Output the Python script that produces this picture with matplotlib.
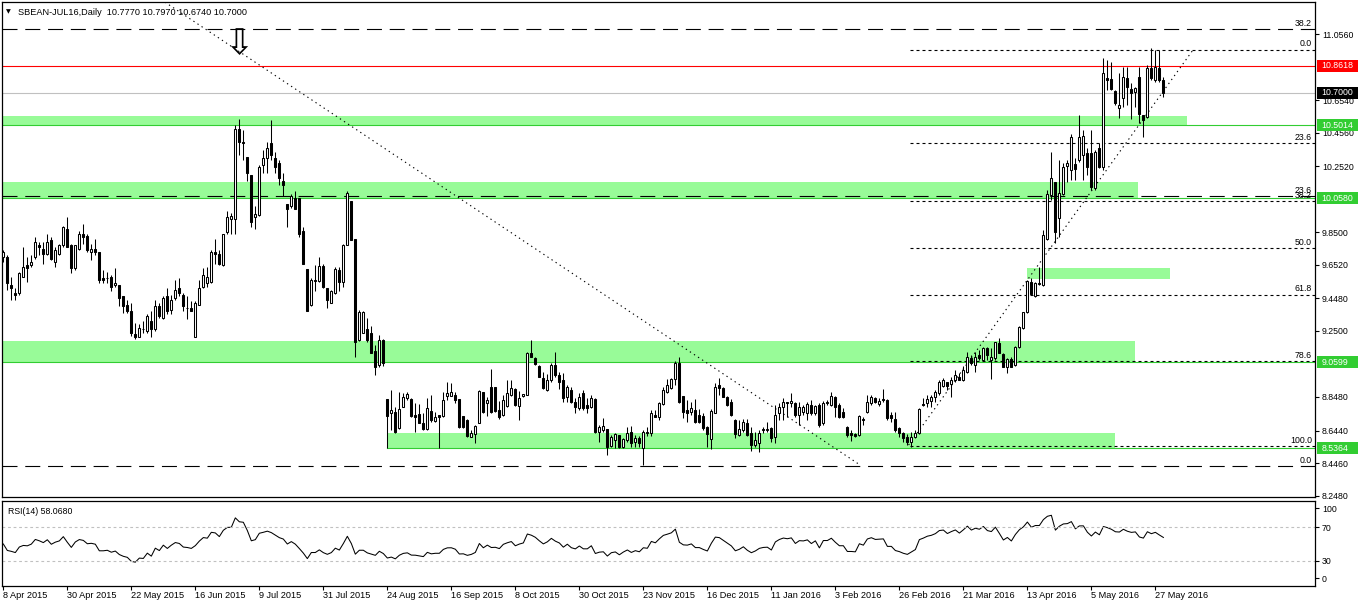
import numpy as np
import matplotlib
matplotlib.use('Agg')
import matplotlib.pyplot as plt
from matplotlib.patches import Rectangle
from matplotlib.transforms import blended_transform_factory

# ---- data ----
opens = [9.70, 9.70, 9.53, 9.48, 9.48, 9.58, 9.65, 9.65, 9.70, 9.77,
         9.75, 9.72, 9.80, 9.67, 9.72, 9.77, 9.87, 9.77, 9.63, 9.75,
         9.84, 9.83, 9.73, 9.75, 9.73, 9.57, 9.57, 9.58, 9.53, 9.53,
         9.46, 9.41, 9.37, 9.23, 9.21, 9.26, 9.25, 9.31, 9.26, 9.40,
         9.33, 9.46, 9.38, 9.45, 9.51, 9.47, 9.39, 9.39, 9.21, 9.41,
         9.52, 9.54, 9.55, 9.73, 9.72, 9.65, 9.85, 9.93, 9.93, 10.48,
         10.40, 10.31, 10.20, 9.94, 9.955, 10.26, 10.30, 10.39, 10.30, 10.27,
         10.16, 10.02, 10.01, 10.06, 10.06, 9.86, 9.625, 9.41, 9.555, 9.555,
         9.645, 9.51, 9.42, 9.48, 9.62, 9.545, 9.77, 10.04, 9.81, 9.195,
         9.24, 9.26, 9.235, 9.13, 9.043, 9.195, 8.834, 8.749, 8.759, 8.657,
         8.79, 8.84, 8.834, 8.738, 8.744, 8.688, 8.651, 8.765, 8.704, 8.738,
         8.733, 8.856, 8.856, 8.86, 8.834, 8.733, 8.708, 8.607, 8.623, 8.692,
         8.878, 8.814, 8.907, 8.907, 8.769, 8.738, 8.793, 8.86, 8.895, 8.793,
         8.854, 8.86, 9.114, 9.083, 9.037, 8.962, 8.89, 8.951, 9.043, 8.982,
         8.951, 8.85, 8.891, 8.82, 8.78, 8.874, 8.799, 8.789, 8.834, 8.637,
         8.65, 8.651, 8.55, 8.586, 8.617, 8.542, 8.586, 8.637, 8.576, 8.60,
         8.536, 8.637, 8.627, 8.738, 8.728, 8.803, 8.88, 8.901, 8.955, 9.053,
         8.854, 8.769, 8.759, 8.769, 8.738, 8.732, 8.663, 8.59, 8.753, 8.921,
         8.901, 8.85, 8.82, 8.708, 8.617, 8.647, 8.692, 8.627, 8.556, 8.566,
         8.651, 8.647, 8.657, 8.607, 8.749, 8.785, 8.82, 8.809, 8.813, 8.738,
         8.758, 8.753, 8.799, 8.749, 8.799, 8.688, 8.82, 8.799, 8.85, 8.799,
         8.759, 8.667, 8.627, 8.623, 8.617, 8.712, 8.759, 8.809, 8.84, 8.805,
         8.834, 8.83, 8.738, 8.712, 8.657, 8.627, 8.607, 8.576, 8.603, 8.627,
         8.805, 8.813, 8.826, 8.846, 8.87, 8.915, 8.937, 8.927, 8.951, 8.971,
         8.951, 9.002, 9.083, 9.043, 9.103, 9.073, 9.144, 9.073, 9.083, 9.174,
         9.109, 9.028, 9.077, 9.043, 9.150, 9.265, 9.367, 9.549, 9.462, 9.535,
         9.529, 9.807, 10.077, 10.154, 9.935, 10.081, 10.253, 10.228, 10.265, 10.289,
         10.320, 10.33, 10.334, 10.117, 10.36, 10.245, 10.786, 10.78, 10.711, 10.604,
         10.665, 10.786, 10.72, 10.705, 10.797, 10.563, 10.553, 10.847, 10.776, 10.847,
         10.777]
highs = [9.74, 9.71, 9.58, 9.51, 9.61, 9.76, 9.70, 9.71, 9.82, 9.79,
         9.79, 9.84, 9.82, 9.76, 9.78, 9.89, 9.94, 9.78, 9.77, 9.86,
         9.90, 9.84, 9.78, 9.81, 9.73, 9.62, 9.61, 9.59, 9.63, 9.53,
         9.46, 9.44, 9.42, 9.30, 9.29, 9.31, 9.35, 9.37, 9.44, 9.42,
         9.46, 9.51, 9.47, 9.56, 9.57, 9.48, 9.46, 9.43, 9.43, 9.56,
         9.63, 9.64, 9.74, 9.81, 9.74, 9.84, 9.98, 9.97, 10.50, 10.54,
         10.47, 10.31, 10.20, 10.01, 10.26, 10.35, 10.40, 10.53, 10.34, 10.29,
         10.21, 10.02, 10.08, 10.10, 10.06, 9.88, 9.625, 9.57, 9.65, 9.70,
         9.66, 9.51, 9.50, 9.64, 9.64, 9.78, 10.10, 10.04, 9.81, 9.38,
         9.37, 9.33, 9.28, 9.165, 9.225, 9.20, 8.834, 8.89, 8.79, 8.88,
         8.87, 8.88, 8.84, 8.81, 8.805, 8.749, 8.84, 8.86, 8.759, 8.74,
         8.88, 8.94, 8.935, 8.88, 8.834, 8.733, 8.712, 8.647, 8.677, 8.89,
         8.878, 8.85, 9.016, 8.907, 8.826, 8.86, 8.951, 8.951, 8.90, 8.886,
         8.866, 9.124, 9.195, 9.093, 9.043, 9.002, 8.99, 9.053, 9.124, 9.002,
         8.992, 8.92, 8.91, 8.84, 8.87, 8.891, 8.84, 8.86, 8.84, 8.677,
         8.718, 8.651, 8.617, 8.627, 8.617, 8.596, 8.667, 8.671, 8.617, 8.61,
         8.647, 8.667, 8.769, 8.769, 8.82, 8.911, 8.955, 8.962, 9.069, 9.093,
         8.854, 8.83, 8.82, 8.834, 8.773, 8.753, 8.671, 8.773, 8.931, 8.962,
         8.911, 8.854, 8.834, 8.712, 8.708, 8.712, 8.712, 8.667, 8.637, 8.647,
         8.667, 8.698, 8.667, 8.799, 8.809, 8.84, 8.82, 8.87, 8.82, 8.82,
         8.80, 8.82, 8.83, 8.80, 8.809, 8.826, 8.83, 8.88, 8.854, 8.809,
         8.779, 8.671, 8.647, 8.627, 8.738, 8.728, 8.86, 8.86, 8.85, 8.84,
         8.895, 8.834, 8.759, 8.759, 8.663, 8.637, 8.623, 8.637, 8.647, 8.779,
         8.84, 8.86, 8.86, 8.891, 8.951, 8.962, 8.941, 8.972, 9.012, 8.995,
         9.036, 9.124, 9.103, 9.124, 9.134, 9.154, 9.154, 9.144, 9.185, 9.205,
         9.113, 9.083, 9.093, 9.158, 9.279, 9.367, 9.559, 9.569, 9.549, 9.641,
         9.864, 10.107, 10.340, 10.154, 10.290, 10.273, 10.29, 10.447, 10.30, 10.563,
         10.472, 10.36, 10.472, 10.35, 10.391, 10.908, 10.898, 10.888, 10.715, 10.817,
         10.857, 10.857, 10.76, 10.735, 10.857, 10.563, 10.867, 10.969, 10.959, 10.959,
         10.797]
lows = [9.67, 9.50, 9.44, 9.44, 9.47, 9.58, 9.55, 9.64, 9.69, 9.71,
        9.66, 9.71, 9.68, 9.64, 9.71, 9.76, 9.76, 9.60, 9.62, 9.74,
        9.78, 9.73, 9.68, 9.71, 9.54, 9.54, 9.54, 9.49, 9.52, 9.40,
        9.36, 9.36, 9.22, 9.20, 9.21, 9.24, 9.24, 9.21, 9.25, 9.33,
        9.32, 9.35, 9.35, 9.44, 9.46, 9.37, 9.32, 9.37, 9.21, 9.41,
        9.51, 9.52, 9.54, 9.66, 9.65, 9.645, 9.84, 9.84, 9.84, 10.32,
        10.29, 10.16, 9.88, 9.87, 9.95, 10.21, 10.21, 10.29, 10.21, 10.14,
        10.07, 9.88, 10.00, 9.99, 9.82, 9.655, 9.37, 9.40, 9.49, 9.55,
        9.51, 9.39, 9.42, 9.475, 9.49, 9.515, 9.77, 9.80, 9.093, 9.19,
        9.235, 9.185, 9.114, 8.98, 9.033, 9.037, 8.536, 8.647, 8.63, 8.651,
        8.785, 8.83, 8.724, 8.637, 8.688, 8.647, 8.647, 8.698, 8.698, 8.536,
        8.728, 8.83, 8.854, 8.81, 8.657, 8.657, 8.607, 8.603, 8.57, 8.688,
        8.753, 8.733, 8.753, 8.759, 8.712, 8.732, 8.789, 8.854, 8.793, 8.708,
        8.85, 8.86, 9.09, 9.043, 8.968, 8.895, 8.886, 8.941, 8.972, 8.895,
        8.82, 8.82, 8.81, 8.749, 8.77, 8.77, 8.749, 8.78, 8.631, 8.576,
        8.637, 8.495, 8.546, 8.536, 8.536, 8.536, 8.576, 8.542, 8.546, 8.546,
        8.434, 8.61, 8.61, 8.724, 8.708, 8.799, 8.87, 8.895, 8.921, 8.814,
        8.718, 8.698, 8.738, 8.692, 8.688, 8.647, 8.546, 8.53, 8.749, 8.86,
        8.846, 8.793, 8.732, 8.596, 8.61, 8.637, 8.61, 8.522, 8.546, 8.515,
        8.631, 8.637, 8.576, 8.566, 8.708, 8.708, 8.728, 8.789, 8.728, 8.678,
        8.738, 8.708, 8.738, 8.74, 8.667, 8.678, 8.80, 8.793, 8.728, 8.718,
        8.718, 8.607, 8.582, 8.607, 8.61, 8.677, 8.749, 8.799, 8.809, 8.793,
        8.82, 8.708, 8.698, 8.637, 8.607, 8.576, 8.556, 8.546, 8.597, 8.623,
        8.793, 8.785, 8.789, 8.82, 8.86, 8.911, 8.891, 8.85, 8.941, 8.95,
        8.947, 8.992, 9.043, 9.002, 9.073, 9.069, 9.073, 8.955, 9.073, 9.113,
        9.028, 8.995, 9.028, 9.036, 9.144, 9.259, 9.361, 9.468, 9.458, 9.529,
        9.523, 9.803, 10.046, 9.783, 9.823, 10.077, 10.158, 10.168, 10.168, 10.279,
        10.168, 10.198, 10.107, 10.107, 10.239, 10.229, 10.715, 10.715, 10.624, 10.543,
        10.614, 10.624, 10.537, 10.614, 10.512, 10.431, 10.543, 10.776, 10.766, 10.766,
        10.674]
closes = [9.73, 9.54, 9.51, 9.47, 9.60, 9.64, 9.63, 9.67, 9.79, 9.76,
          9.72, 9.79, 9.69, 9.74, 9.77, 9.88, 9.76, 9.63, 9.77, 9.84,
          9.82, 9.74, 9.75, 9.73, 9.56, 9.56, 9.57, 9.52, 9.54, 9.45,
          9.40, 9.37, 9.24, 9.21, 9.27, 9.26, 9.34, 9.26, 9.40, 9.34,
          9.45, 9.37, 9.44, 9.50, 9.48, 9.40, 9.39, 9.37, 9.42, 9.51,
          9.59, 9.58, 9.73, 9.72, 9.66, 9.84, 9.945, 9.95, 10.48, 10.40,
          10.39, 10.21, 9.915, 9.96, 10.25, 10.30, 10.36, 10.32, 10.25, 10.18,
          10.14, 9.99, 10.07, 9.99, 9.84, 9.655, 9.37, 9.56, 9.56, 9.645,
          9.52, 9.44, 9.49, 9.625, 9.55, 9.77, 10.09, 9.80, 9.18, 9.367,
          9.367, 9.195, 9.114, 9.03, 9.195, 9.053, 8.733, 8.769, 8.637, 8.773,
          8.846, 8.866, 8.733, 8.728, 8.692, 8.651, 8.779, 8.708, 8.724, 8.724,
          8.830, 8.874, 8.876, 8.83, 8.663, 8.667, 8.611, 8.631, 8.671, 8.884,
          8.759, 8.830, 8.759, 8.765, 8.728, 8.83, 8.87, 8.90, 8.80, 8.84,
          8.866, 9.118, 9.093, 9.049, 8.972, 8.90, 8.951, 9.043, 8.982, 8.941,
          8.84, 8.907, 8.82, 8.789, 8.85, 8.78, 8.78, 8.84, 8.637, 8.663,
          8.67, 8.546, 8.607, 8.621, 8.542, 8.59, 8.627, 8.566, 8.596, 8.57,
          8.637, 8.627, 8.753, 8.728, 8.81, 8.891, 8.921, 8.955, 9.057, 8.82,
          8.759, 8.753, 8.779, 8.698, 8.698, 8.657, 8.623, 8.765, 8.911, 8.901,
          8.85, 8.799, 8.738, 8.623, 8.651, 8.698, 8.617, 8.556, 8.586, 8.631,
          8.647, 8.651, 8.596, 8.738, 8.789, 8.82, 8.809, 8.826, 8.738, 8.789,
          8.785, 8.803, 8.749, 8.793, 8.677, 8.809, 8.809, 8.854, 8.789, 8.728,
          8.728, 8.617, 8.617, 8.61, 8.732, 8.708, 8.82, 8.846, 8.82, 8.826,
          8.83, 8.718, 8.718, 8.647, 8.627, 8.596, 8.576, 8.603, 8.631, 8.773,
          8.80, 8.834, 8.85, 8.88, 8.941, 8.951, 8.915, 8.951, 8.982, 8.951,
          9.012, 9.093, 9.053, 9.093, 9.083, 9.144, 9.103, 9.093, 9.185, 9.117,
          9.032, 9.077, 9.028, 9.154, 9.275, 9.363, 9.555, 9.474, 9.543, 9.543,
          9.833, 10.083, 10.178, 9.853, 10.087, 10.249, 10.273, 10.427, 10.233, 10.431,
          10.435, 10.249, 10.127, 10.34, 10.249, 10.817, 10.776, 10.72, 10.634, 10.624,
          10.797, 10.735, 10.699, 10.725, 10.569, 10.533, 10.847, 10.786, 10.857, 10.776,
          10.700]

date_labels = ['8 Apr 2015', '30 Apr 2015', '22 May 2015', '16 Jun 2015', '9 Jul 2015',
               '31 Jul 2015', '24 Aug 2015', '16 Sep 2015', '8 Oct 2015', '30 Oct 2015',
               '23 Nov 2015', '16 Dec 2015', '11 Jan 2016', '3 Feb 2016', '26 Feb 2016',
               '21 Mar 2016', '13 Apr 2016', '5 May 2016', '27 May 2016']
label_every = 16

price_ticks = [11.0560, 10.6540, 10.4560, 10.2520, 9.8500, 9.6520, 9.4480,
               9.2500, 8.8480, 8.6440, 8.4460, 8.2480]

# horizontal lines with their right-hand price boxes
red_level = 10.8618
bid_level = 10.7000
green_levels = [10.5014, 10.0580, 9.0599]
green_level_low = 8.5364          # starts at the August gap bar
green_level_low_start = 96

# support / resistance zones: (low, high, first bar, last bar)
zones = [(10.5014, 10.555, -2, 296.0),
         (10.0580, 10.157, -2, 283.7),
         (9.566, 9.630, 255.9, 291.7),
         (9.0599, 9.188, -2, 282.9),
         (8.5364, 8.630, 95.9, 277.9)]

# two Fibonacci retracements
fib_long = (8.428, 15.386)        # (0 %, 100 %)  long dashes, full width
fib_long_levels = [0.0, 23.6, 38.2]
fib_short = (10.96, 8.55)         # (0 %, 100 %)  short dashes from the Feb low
fib_short_levels = [0.0, 23.6, 38.2, 50.0, 61.8, 78.6, 100.0]
fib_short_start = 226.7

# trend lines ((bar, price), (bar, price))
down_trend = ((40.4, 11.25), (214.2, 8.434))
up_trend = ((226.3, 8.556), (297.4, 10.959))

rsi_period = 14

# ---- layout ----
W, H = 1358, 606
FONT = 'Liberation Sans'
FS = 6.3
GREEN = '#32CD32'
PALE = '#98FB98'

fig = plt.figure(figsize=(W / 100, H / 100), dpi=100)
ax = fig.add_axes([2 / W, 1 - 497 / H, 1313 / W, 495 / H])
rax = fig.add_axes([2 / W, 1 - 586 / H, 1313 / W, 85 / H])

n = len(closes)
x = np.arange(n)
o, hi, lo, c = (np.array(v) for v in (opens, highs, lows, closes))

xlim = (-0.33, 327.9)
ax.set_xlim(*xlim)
ax.set_ylim(8.2397, 11.2507)

# zones
for z_lo, z_hi, b0, b1 in zones:
    ax.add_patch(Rectangle((b0, z_lo), b1 - b0, z_hi - z_lo, fc=PALE, ec='none', zorder=1))

# horizontal lines
ax.axhline(red_level, color='#FF0000', lw=0.8, zorder=2)
ax.axhline(bid_level, color='#C0C0C0', lw=0.8, zorder=2)
for g in green_levels:
    ax.axhline(g, color=GREEN, lw=0.8, zorder=2)
ax.plot([green_level_low_start, xlim[1]], [green_level_low] * 2, color=GREEN, lw=0.8, zorder=2)

# fibonacci levels
trans_r = blended_transform_factory(ax.transAxes, ax.transData)
lab_x = (1312 - 2) / 1313
for lv in fib_long_levels:
    p = fib_long[0] + (fib_long[1] - fib_long[0]) * lv / 100
    ax.axhline(p, color='black', lw=0.8, dashes=(13.5, 7), zorder=2)
    ax.text(lab_x, p + 0.008, f'{lv:.1f}', transform=trans_r, ha='right', va='bottom',
            fontsize=FS, family=FONT, zorder=6)
for lv in fib_short_levels:
    p = fib_short[0] + (fib_short[1] - fib_short[0]) * lv / 100
    ax.plot([fib_short_start, xlim[1]], [p, p], color='black', lw=0.8, dashes=(2.7, 2.7), zorder=2)
    ax.text(lab_x, p + 0.008, f'{lv:.1f}', transform=trans_r, ha='right', va='bottom',
            fontsize=FS, family=FONT, zorder=6)

# trend lines
for (b0, p0), (b1, p1) in (down_trend, up_trend):
    ax.plot([b0, b1], [p0, p1], color='black', lw=0.8, dashes=(1.2, 3.2), zorder=2)

# candles
up = c >= o
ax.vlines(x, lo, hi, color='black', lw=0.75, zorder=3)
ax.bar(x[up], np.maximum(c[up] - o[up], 1e-4), bottom=o[up], width=0.5,
       facecolor='white', edgecolor='black', lw=0.75, zorder=4)
ax.bar(x[~up], o[~up] - c[~up], bottom=c[~up], width=0.5,
       facecolor='black', edgecolor='black', lw=0.75, zorder=4)

# down arrow marker above the June high
ax.text(58.8, 10.995, '\u21e9', ha='center', va='center', fontsize=25, family='DejaVu Sans',
        zorder=6)

# header
ax.text(0.003, 0.985, '\u25bc', transform=ax.transAxes, ha='left', va='top', fontsize=4.5,
        family='DejaVu Sans')
ax.text(16 / 1313, 0.988, 'SBEAN-JUL16,Daily  10.7770 10.7970 10.6740 10.7000',
        transform=ax.transAxes, ha='left', va='top', fontsize=6.6, family=FONT)

# right price axis
ax.set_xticks([])
ax.yaxis.tick_right()
ax.set_yticks(price_ticks)
ax.set_yticklabels([f'{t:.4f}' for t in price_ticks], fontsize=FS, family=FONT)
ax.tick_params(axis='y', length=3, width=0.8, pad=2)

box_h = 12 / 164.4
def price_box(p, fc, tc='white'):
    ax.add_patch(Rectangle((1.0017, p - box_h / 2), 41 / 1313, box_h, transform=trans_r,
                           clip_on=False, fc=fc, ec='none', zorder=7))
    ax.text(1.0017 + 4 / 1313, p, f'{p:.4f}', transform=trans_r, ha='left', va='center',
            color=tc, fontsize=FS, family=FONT, clip_on=False, zorder=8)

price_box(red_level, '#FF0000')
price_box(bid_level, 'black')
for g in green_levels + [green_level_low]:
    price_box(g, GREEN)

# ---- RSI ----
ag = al = 0.04
rsi = [50.0]
for i in range(1, n):
    d = closes[i] - closes[i - 1]
    ag = (ag * (rsi_period - 1) + max(d, 0)) / rsi_period
    al = (al * (rsi_period - 1) + max(-d, 0)) / rsi_period
    rsi.append(100 - 100 / (1 + ag / al))

rax.set_xlim(*xlim)
rax.set_ylim(-0.3, 101.5)
rax.plot(x, rsi, color='black', lw=0.75)
for lv in (70, 30):
    rax.axhline(lv, color='#C0C0C0', lw=0.8, dashes=(2.5, 2.5))
rax.text(6 / 1313, 0.93, 'RSI(14) 58.0680', transform=rax.transAxes, ha='left', va='top',
         fontsize=FS, family=FONT)
rax.yaxis.tick_right()
rax.set_yticks([93.1, 70, 30, 8.9])
rax.set_yticklabels(['100', '70', '30', '0'], fontsize=FS, family=FONT)
rax.tick_params(axis='y', length=3, width=0.8, pad=2)

tick_bars = [i * label_every for i in range(len(date_labels))]
rax.set_xticks(tick_bars)
rax.set_xticklabels(date_labels, fontsize=6.6, family=FONT, ha='left')
rax.tick_params(axis='x', length=3, width=0.8, pad=0.5)

for a in (ax, rax):
    for s in a.spines.values():
        s.set_linewidth(0.9)

fig.savefig('out.png', dpi=100)
